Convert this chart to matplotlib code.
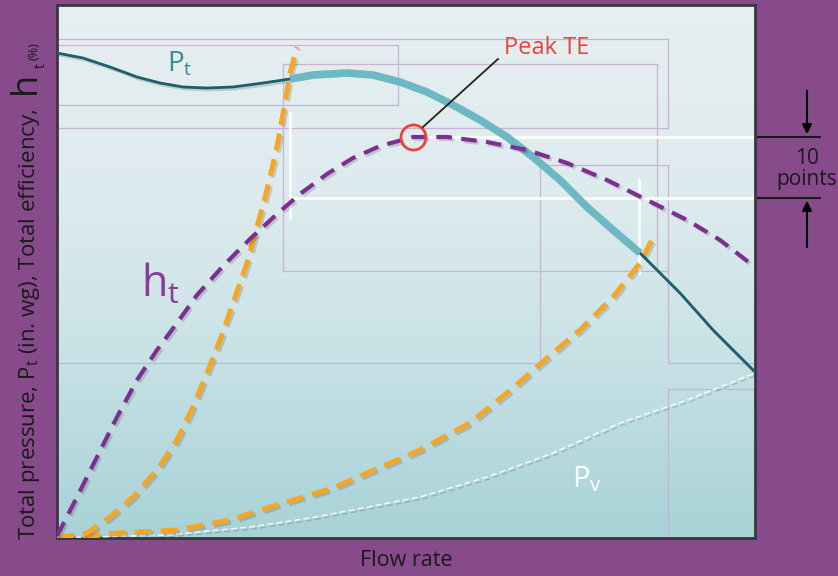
import numpy as np
import matplotlib
matplotlib.use("Agg")
import matplotlib.pyplot as plt
import matplotlib.patheffects as pe

# curves (flow rate 0-698, y 0-533, arbitrary units)
pt_x = [0, 26, 53, 80, 103, 126, 150, 176, 206, 233, 256, 290, 316, 343, 370, 396, 423, 450, 476, 503, 530, 556, 583, 623, 656, 698]
pt_y = [485, 480, 471, 461, 455, 451, 450, 451, 455, 459, 463, 465, 463, 456, 446, 433, 418, 401, 381, 358, 331, 308, 285, 245, 208, 166]

ht_x = [0, 20, 40, 60, 80, 100, 120, 140, 166, 193, 220, 243, 270, 296, 323, 356, 390, 430, 470, 510, 550, 590, 630, 663, 698]
ht_y = [2, 41, 81, 121, 158, 188, 215, 243, 272, 299, 324, 344, 364, 380, 392, 401, 401, 396, 388, 375, 358, 338, 318, 298, 271]

sys1_x = [0, 6, 30, 53, 76, 100, 120, 136, 150, 163, 176, 190, 200, 210, 220, 228, 233, 240]
sys1_y = [0, 1, 5, 21, 41, 68, 98, 131, 165, 198, 235, 275, 311, 348, 391, 435, 465, 491]

sys2_x = [0, 30, 60, 120, 173, 226, 253, 276, 363, 413, 456, 490, 523, 556, 583, 596]
sys2_y = [0, 2, 5, 8, 18, 35, 43, 50, 88, 115, 150, 180, 208, 241, 275, 300]

pv_x = [0, 110, 193, 253, 363, 430, 496, 563, 630, 698]
pv_y = [0, 3, 11, 20, 41, 61, 85, 115, 138, 165]

peak = (356, 401)
band_lo, band_hi = 340, 401
op_left, op_right = 233, 582

# faint guide boxes from the artwork (x0, y0, x1, y1)
guides = [
    (0, 493, 341, 493), (0, 433, 341, 433), (341, 433, 341, 493),
    (0, 499, 611, 499), (0, 410, 611, 410), (611, 410, 611, 499),
    (226, 474, 600, 474), (226, 267, 611, 267), (226, 267, 226, 474), (600, 267, 600, 474),
    (483, 373, 611, 373), (483, 175, 483, 373), (611, 175, 611, 373),
    (0, 175, 483, 175), (611, 175, 698, 175),
    (611, 149, 698, 149), (611, 0, 611, 149),
]

purple_bg = "#874a8b"
plt.rcParams["font.family"] = ["Open Sans", "DejaVu Sans"]
plt.rcParams["mathtext.default"] = "regular"

fig = plt.figure(figsize=(8.38, 5.76), dpi=100)
fig.patch.set_facecolor(purple_bg)
ax = fig.add_axes([57 / 838, 38 / 576, 698 / 838, 533 / 576])
ax.set_xlim(0, 698)
ax.set_ylim(0, 533)
ax.set_xticks([])
ax.set_yticks([])
for s in ax.spines.values():
    s.set_color("#3a3540")
    s.set_linewidth(2)

# background gradient
stops = np.array([[230, 239, 241], [222, 235, 238], [205, 228, 232], [168, 210, 215]]) / 255
pos = [0, 0.35, 0.6, 1]
t = np.linspace(0, 1, 256)
grad = np.stack([np.interp(t, pos, stops[:, k]) for k in range(3)], axis=-1)[:, None, :]
ax.imshow(grad, extent=[0, 698, 0, 533], aspect="auto", zorder=0)

for x0, y0, x1, y1 in guides:
    ax.plot([x0, x1], [y0, y1], color="#c8b4d2", lw=0.9, zorder=1)

# white operating-range guides
ax.plot([op_left, op_left], [320, 425], color="white", lw=2, alpha=0.9, zorder=2)
ax.plot([op_right, op_right], [265, 358], color="white", lw=2, alpha=0.9, zorder=2)
ax.plot([peak[0], 698], [band_hi, band_hi], color="white", lw=2, alpha=0.9, zorder=2)
ax.plot([op_left, 698], [band_lo, band_lo], color="white", lw=2, alpha=0.9, zorder=2)

shadow = [pe.SimpleLineShadow(offset=(1.5, -1.5), shadow_color="k", alpha=0.15), pe.Normal()]

ax.plot(pv_x, pv_y, color="white", lw=1.1, dashes=(4, 2), alpha=0.85, zorder=3, path_effects=shadow)
ax.plot(sys2_x, sys2_y, color="#f5a623", lw=3.6, dashes=(3.4, 1.8), zorder=4, path_effects=shadow)
ax.plot(sys1_x, sys1_y, color="#f5a623", lw=3.6, dashes=(3.4, 1.8), zorder=4, path_effects=shadow)
ax.plot(pt_x, pt_y, color="#1b5f6e", lw=2, zorder=5, path_effects=shadow)
ax.plot(pt_x[9:23], pt_y[9:23], color="#6db8c2", lw=5.5, solid_capstyle="butt", zorder=5)
ax.plot(ht_x, ht_y, color="#7d2e8e", lw=3, dashes=(3.75, 2.25), zorder=6, path_effects=shadow)

# peak marker and label
ax.plot([peak[0]], [peak[1]], marker="o", ms=18, mfc="none", mec="#e8443a", mew=2, zorder=7)
ax.plot([366, 441], [411, 479], color="#2a1f14", lw=1.3, zorder=7)
ax.text(447, 484, "Peak TE", color="#e8443a", fontsize=17, ha="left", va="baseline", zorder=8)

ax.text(110, 466, "$P_t$", color="#3a8a96", fontsize=20, zorder=8)
ax.text(84, 241, "$h_t$", color="#8e3a97", fontsize=31, zorder=8)
ax.text(515, 51, "$P_v$", color="white", fontsize=21, zorder=8)

# 10 points annotation in the margin
for yv in (band_hi, band_lo):
    ax.plot([701, 763], [yv, yv], color="#1a1a1a", lw=1.5, clip_on=False)
ax.annotate("", xy=(750, band_hi), xytext=(750, 450),
            arrowprops=dict(arrowstyle="-|>", color="black", lw=1.5, mutation_scale=14), annotation_clip=False)
ax.annotate("", xy=(750, band_lo), xytext=(750, 288),
            arrowprops=dict(arrowstyle="-|>", color="black", lw=1.5, mutation_scale=14), annotation_clip=False)
ax.text(750, 369, "10\npoints", ha="center", va="center", fontsize=15, color="#1a1a1a",
        linespacing=0.95, clip_on=False)

# axis labels
fig.text(406 / 838, (576 - 566) / 576, "Flow rate", ha="center", va="baseline", fontsize=15.5, color="#1a1a1a")
fig.text(35 / 838, (576 - 540) / 576, "Total pressure, $P_t$ (in. wg), Total efficiency,",
         rotation=90, rotation_mode="anchor", ha="left", va="baseline", fontsize=16, color="#1a1a1a")
fig.text(35 / 838, (576 - 94) / 576, "h", rotation=90, rotation_mode="anchor",
         ha="left", va="baseline", fontsize=26, color="#1a1a1a")
fig.text(45 / 838, (576 - 68) / 576, "t", rotation=90, rotation_mode="anchor",
         ha="left", va="baseline", fontsize=10, color="#1a1a1a")
fig.text(37 / 838, (576 - 60) / 576, "(%)", rotation=90, rotation_mode="anchor",
         ha="left", va="baseline", fontsize=9, color="#1a1a1a")

fig.savefig("out.png", dpi=100, facecolor=fig.get_facecolor())
